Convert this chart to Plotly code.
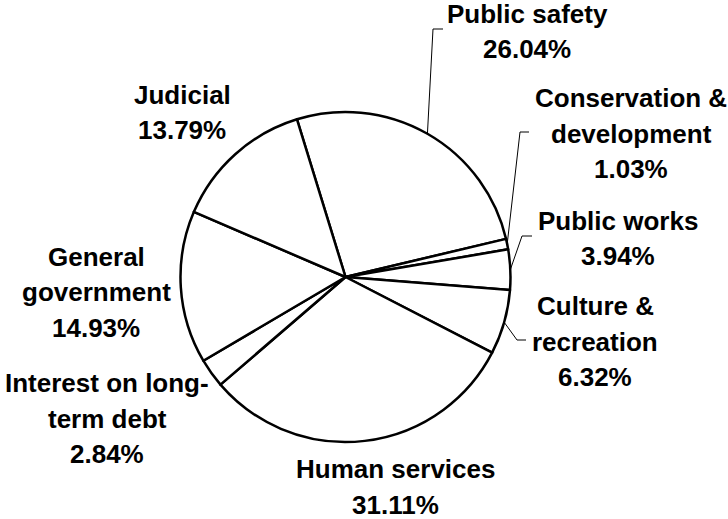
import math
import plotly.graph_objects as go

# Expenditure shares by function (percent of total)
categories = [
    "Public safety",
    "Conservation & development",
    "Public works",
    "Culture & recreation",
    "Human services",
    "Interest on long-term debt",
    "General government",
    "Judicial",
]
shares = [26.04, 1.03, 3.94, 6.32, 31.11, 2.84, 14.93, 13.79]

# How each category name is wrapped in its label
name_lines = [
    ["Public safety"],
    ["Conservation &", "development"],
    ["Public works"],
    ["Culture &", "recreation"],
    ["Human services"],
    ["Interest on long-", "term debt"],
    ["General", "government"],
    ["Judicial"],
]

# Canvas and pie geometry (pixels)
W, H = 728, 519
CX, CY, R = 345.5, 277.0, 165.0
START_ANGLE = -17.1          # first slice starts this many degrees from 12 o'clock
LINE_GAP = 35.5
FONT = dict(family="Liberation Sans, Arial, sans-serif", size=26, color="black")

# Label block placement: centre x, y of the first text line
label_pos = {
    "Public safety": (527, 14),
    "Conservation & development": (631, 98),
    "Public works": (618, 220.5),
    "Culture & recreation": (595, 306),
    "Human services": (396, 469),
    "Interest on long-term debt": (107, 383),
    "General government": (96, 256.5),
    "Judicial": (182, 95),
}

# Leader lines: elbow point and end of the short horizontal run
leaders = {
    "Public safety": ((433, 29), 443),
    "Conservation & development": ((520, 132), 529),
    "Public works": ((522, 236), 532),
    "Culture & recreation": ((517, 340), 526),
}


def fx(x):
    return x / W


def fy(y):
    return 1 - y / H


fig = go.Figure(
    go.Pie(
        labels=categories,
        values=shares,
        sort=False,
        direction="clockwise",
        rotation=START_ANGLE,
        marker=dict(colors=["white"] * len(categories),
                    line=dict(color="black", width=2.5)),
        textinfo="none",
        hoverinfo="label+value",
        showlegend=False,
        domain=dict(x=[fx(CX - R), fx(CX + R)], y=[fy(CY + R), fy(CY - R)]),
    )
)

annotations = []
shapes = []
total = sum(shares)
cum = 0.0
for cat, val, lines in zip(categories, shares, name_lines):
    mid = math.radians(START_ANGLE + 360.0 * (cum + val / 2) / total)
    cum += val

    x0, y0 = label_pos[cat]
    for i, txt in enumerate(lines + [f"{val:.2f}%"]):
        annotations.append(dict(
            x=fx(x0), y=fy(y0 + i * LINE_GAP), xref="paper", yref="paper",
            text=f"<b>{txt}</b>", showarrow=False, font=FONT,
            xanchor="center", yanchor="middle",
        ))

    if cat in leaders:
        (ex, ey), hx = leaders[cat]
        sx = CX + R * math.sin(mid)
        sy = CY - R * math.cos(mid)
        shapes.append(dict(
            type="path", xref="paper", yref="paper",
            path=f"M {fx(sx)} {fy(sy)} L {fx(ex)} {fy(ey)} L {fx(hx)} {fy(ey)}",
            line=dict(color="black", width=1),
        ))

fig.update_layout(
    width=W, height=H,
    margin=dict(l=0, r=0, t=0, b=0),
    paper_bgcolor="white",
    plot_bgcolor="white",
    annotations=annotations,
    shapes=shapes,
)

fig.write_html("out.html")
